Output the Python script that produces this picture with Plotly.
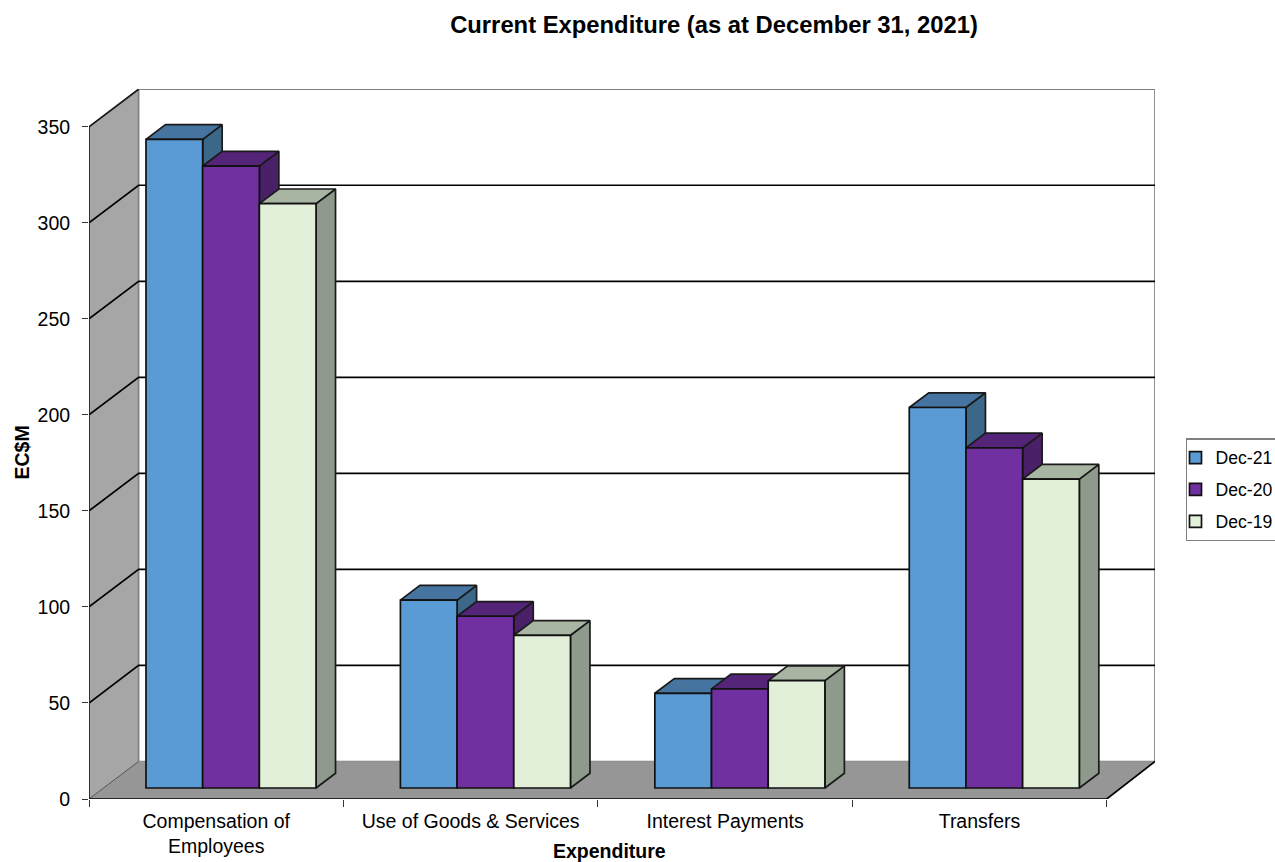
import plotly.graph_objects as go

# ---------- data ----------
categories = ["Compensation of<br>Employees", "Use of Goods & Services", "Interest Payments", "Transfers"]
dec_21 = [337.7, 97.8, 49.3, 198.1]
dec_20 = [323.8, 89.4, 51.6, 177.1]
dec_19 = [304.2, 79.5, 55.9, 160.8]
series_names = ["Dec-21", "Dec-20", "Dec-19"]
y_ticks = [0, 50, 100, 150, 200, 250, 300, 350]

# ---------- styling ----------
front_colors = ["#5B9BD5", "#7030A0", "#E2EFD9"]
top_colors = ["#44749F", "#542478", "#A9B5A3"]
side_colors = ["#3B6889", "#4A2069", "#8E9A8C"]
WIDTH, HEIGHT = 1275, 862
L, R, T, B = 88.7, 1155.0, 89.0, 798.7
CAT_PX, VAL_PX = 254.5, 1.92
x_max = (R - L) / CAT_PX
y_max = (B - T) / VAL_PX
wall_dx, wall_dy = 49.6 / CAT_PX, 37.5 / VAL_PX
bar_dx, bar_dy = 19.5 / CAT_PX, 14.7 / VAL_PX
base = 11.0 / VAL_PX
bar_start, bar_w = 57.0 / CAT_PX, 56.7 / CAT_PX
n = len(categories)
FONT = "Liberation Sans, Arial, sans-serif"

fig = go.Figure()


def poly(xs, ys, fill, line, lw=1.7, closed=True):
    if closed:
        xs, ys = xs + xs[:1], ys + ys[:1]
    fig.add_trace(go.Scatter(
        x=xs, y=ys, mode="lines", fill="toself" if fill else "none",
        fillcolor=fill, line=dict(color=line, width=lw),
        hoverinfo="skip", showlegend=False, cliponaxis=False))


def px_x(page_x):
    return (page_x - L) / (R - L)


def px_y(page_y):
    return (B - page_y) / (B - T)


# walls and floor
top_v = y_ticks[-1]
poly([0, wall_dx, wall_dx, 0], [0, wall_dy, top_v + wall_dy, top_v], "#A6A6A6", "#A6A6A6", 0.5)
poly([wall_dx, x_max, x_max, wall_dx], [wall_dy, wall_dy, top_v + wall_dy, top_v + wall_dy], "#FFFFFF", "#808080", 1.7)
poly([0, n, x_max, wall_dx], [0, 0, wall_dy, wall_dy], "#969696", "#969696", 0.5)

# grid lines along left wall and back wall
for v in y_ticks[1:-1]:
    poly([0, wall_dx, x_max], [v, v + wall_dy, v + wall_dy], None, "#000000", 1.7, closed=False)
poly([0, 0, wall_dx], [0, top_v, top_v + wall_dy], None, "#1A1A1A", 1.7, closed=False)
poly([0, wall_dx], [0, wall_dy], None, "#555555", 1, closed=False)
poly([0, n, x_max], [0, 0, wall_dy], None, "#000000", 1.7, closed=False)

# top and side faces of every bar, left to right
for c in range(n):
    for s, vals in enumerate([dec_21, dec_20, dec_19]):
        xl = c + bar_start + s * bar_w
        xr = xl + bar_w
        v = base + vals[c]
        poly([xr, xr + bar_dx, xr + bar_dx, xr], [base, base + bar_dy, v + bar_dy, v], side_colors[s], "#1A1A1A")
        poly([xl, xl + bar_dx, xr + bar_dx, xr], [v, v + bar_dy, v + bar_dy, v], top_colors[s], "#1A1A1A")

# front faces: real bars on an overlaid pair of axes
for s, vals in enumerate([dec_21, dec_20, dec_19]):
    fig.add_trace(go.Bar(
        x=[c + bar_start + (s + 0.5) * bar_w for c in range(n)], y=vals, base=base,
        width=bar_w, name=series_names[s], legendgroup=series_names[s],
        marker=dict(color=front_colors[s], line=dict(color="#111111", width=1.7)),
        xaxis="x2", yaxis="y2", hovertemplate="%{y}<extra>" + series_names[s] + "</extra>"))

tick_font = dict(family=FONT, size=19.5, color="#000000")
fig.update_layout(
    width=WIDTH, height=HEIGHT, autosize=False,
    margin=dict(l=L, r=WIDTH - R, t=T, b=HEIGHT - B, pad=0, autoexpand=False),
    paper_bgcolor="#FFFFFF", plot_bgcolor="rgba(0,0,0,0)",
    barmode="overlay",
    font=dict(family=FONT, color="#000000"),
    title=dict(text="<b>Current Expenditure (as at December 31, 2021)</b>",
               font=dict(family=FONT, size=23.8, color="#000000"),
               x=714 / WIDTH, xanchor="center", xref="container", y=1 - 25 / HEIGHT, yanchor="middle"),
    xaxis=dict(range=[0, x_max], tickvals=list(range(n + 1)), ticktext=[""] * (n + 1),
               ticks="outside", ticklen=7, tickcolor="#333333", tickwidth=1, automargin=False,
               showgrid=False, zeroline=False, showline=False),
    yaxis=dict(range=[0, y_max], tickvals=y_ticks, ticks="outside", ticklen=6, tickcolor="#333333", tickwidth=1,
               tickfont=tick_font, ticklabelstandoff=8, automargin=False,
               showgrid=False, zeroline=False, showline=False),
    xaxis2=dict(range=[0, x_max], overlaying="x", side="bottom", tickvals=[c + 0.5 for c in range(n)],
                ticktext=categories, ticks="", tickangle=0, tickfont=tick_font, ticklabelstandoff=8,
                automargin=False, showgrid=False, zeroline=False, showline=False),
    yaxis2=dict(range=[0, y_max], overlaying="y", side="left", showticklabels=False, ticks="", automargin=False,
                showgrid=False, zeroline=False, showline=False),
    legend=dict(x=px_x(1186), xanchor="left", y=px_y(438), yanchor="top",
                bordercolor="#808080", borderwidth=1.5, bgcolor="#FFFFFF",
                font=dict(family=FONT, size=17.6, color="#000000"),
                tracegroupgap=6, indentation=-12, itemclick=False, itemdoubleclick=False),
    annotations=[
        dict(text="<b>Expenditure</b>", x=px_x(609), y=px_y(851), xref="paper", yref="paper", showarrow=False,
             xanchor="center", yanchor="middle", font=dict(size=19.5)),
        dict(text="<b>EC$M</b>", x=px_x(22), y=px_y(452), xref="paper", yref="paper", showarrow=False,
             xanchor="center", yanchor="middle", textangle=-90, font=dict(size=19.5)),
    ],
)

fig.write_html("out.html", config=dict(displayModeBar=False),
               post_script="document.body.style.margin='0';document.body.style.overflow='hidden';")
